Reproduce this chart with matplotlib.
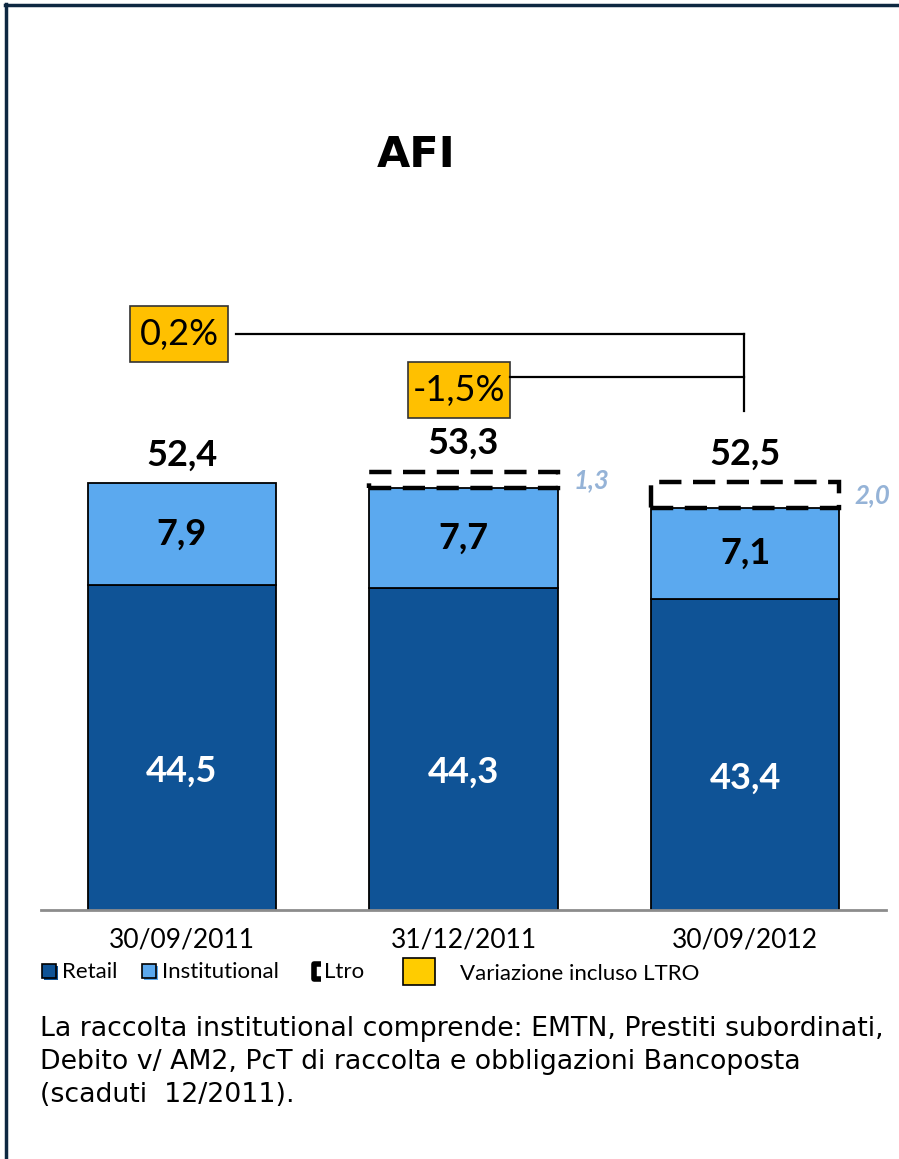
import matplotlib
matplotlib.use("Agg")
import matplotlib.pyplot as plt
from matplotlib.patches import Rectangle
from matplotlib.lines import Line2D
import numpy as np

# data
dates = ["30/09/2011", "31/12/2011", "30/09/2012"]
retail = [44.5, 44.3, 43.4]
institutional = [7.9, 7.7, 7.1]
ltro = [0.0, 1.3, 2.0]
totals = [52.4, 53.3, 52.5]
changes = ["0,2%", "-1,5%"]

RETAIL_C = "#0F5396"
INST_C = "#5BA9EF"
YELLOW = "#FFC000"
LTRO_TXT = "#95B3D7"
NAVY = "#0E2841"

W, H = 899, 1159
fig = plt.figure(figsize=(W / 100, H / 100), dpi=100)


def fx(x):
    return x / W


def fy(y):
    return 1 - y / H


def fmt(v):
    return f"{v:.1f}".replace(".", ",")


# axes placed so the bars line up with the reference
ax = fig.add_axes([fx(41), fy(910), fx(886) - fx(41), fy(300) - fy(910)])
ax.set_xlim(-0.5, 2.5)
ax.set_ylim(19.3, 66.6)
for s in ["top", "right", "left"]:
    ax.spines[s].set_visible(False)
ax.spines["bottom"].set_color("#8C8C8C")
ax.spines["bottom"].set_linewidth(2)
ax.set_yticks([])
ax.set_xticks([])
ax.patch.set_alpha(0)

x = np.arange(len(dates))
bw = 0.668
ax.bar(x, retail, width=bw, color=RETAIL_C, edgecolor="black", linewidth=1.3, zorder=2)
ax.bar(x, institutional, width=bw, bottom=retail, color=INST_C, edgecolor="black",
       linewidth=1.3, zorder=2)

base = np.array(retail) + np.array(institutional)
for i in range(len(dates)):
    if ltro[i] > 0:
        ax.add_patch(Rectangle((x[i] - bw / 2, base[i]), bw, ltro[i], fill=False,
                               edgecolor="black", linewidth=3.2, linestyle=(0, (5, 2.6)),
                               zorder=3, clip_on=False))
        ax.text(x[i] + bw / 2 + 0.055, base[i] + ltro[i] / 2, fmt(ltro[i]),
                ha="left", va="center", fontsize=18.5, fontweight="bold",
                fontstyle="italic", color=LTRO_TXT, family="Lato")
    top = base[i] + ltro[i]
    ax.annotate(fmt(totals[i]), (x[i], top), xytext=(0, 20), textcoords="offset points",
                ha="center", va="center", fontsize=26, fontweight="bold", family="Lato")
    ax.text(x[i], retail[i] + institutional[i] / 2, fmt(institutional[i]),
            ha="center", va="center", fontsize=26, fontweight="bold", family="Lato")
    ax.annotate(fmt(retail[i]), (x[i], (ax.get_ylim()[0] + retail[i]) / 2),
                xytext=(0, -17), textcoords="offset points",
                ha="center", va="center", fontsize=26, fontweight="bold",
                color="white", family="Lato")
    ax.text(x[i], 17.0, dates[i], ha="center", va="center", fontsize=19,
            family="Lato", clip_on=False)

# title
fig.text(fx(416), fy(155), "AFI", ha="center", va="center", fontsize=31,
         fontweight="bold", family="DejaVu Sans")

# change boxes and connectors
fig.add_artist(Line2D([fx(236), fx(744)], [fy(334), fy(334)], color="black", lw=1.6))
fig.add_artist(Line2D([fx(510), fx(744)], [fy(377), fy(377)], color="black", lw=1.6))
fig.add_artist(Line2D([fx(744), fx(744)], [fy(334), fy(411)], color="black", lw=1.6))
boxes = [(130, 306, 98, 56), (408, 362, 102, 56)]
for (bx, by, bwid, bh), lab in zip(boxes, changes):
    fig.add_artist(Rectangle((fx(bx), fy(by + bh)), bwid / W, bh / H, facecolor=YELLOW,
                             edgecolor="#333333", linewidth=1.2))
    fig.text(fx(bx + bwid / 2), fy(by + bh / 2 + 1), lab, ha="center", va="center",
             fontsize=26, family="Lato")

# legend
def square(x0, y0, size, color):
    fig.add_artist(Rectangle((fx(x0 + 1.5), fy(y0 + size + 1.5)), size / W, size / H,
                             facecolor=color, edgecolor="none"))
    fig.add_artist(Rectangle((fx(x0), fy(y0 + size)), size / W, size / H,
                             facecolor=color, edgecolor="black", linewidth=1.2))


square(42, 964, 14, RETAIL_C)
fig.text(fx(62), fy(972), "Retail", ha="left", va="center", fontsize=16, family="Lato")
square(142, 964, 14, INST_C)
fig.text(fx(162), fy(972), "Institutional", ha="left", va="center", fontsize=16,
         family="Lato")
fig.add_artist(Line2D([fx(321), fx(314), fx(314), fx(321)],
                      [fy(964), fy(964), fy(979), fy(979)], color="black", lw=4,
                      solid_capstyle="butt"))
fig.text(fx(324), fy(972), "Ltro", ha="left", va="center", fontsize=16, family="Lato")
fig.add_artist(Rectangle((fx(403), fy(985)), 32 / W, 27 / H, facecolor="#FFCC00",
                         edgecolor="black", linewidth=1.2))
fig.text(fx(460), fy(974), "Variazione incluso LTRO", ha="left", va="center",
         fontsize=16, family="Lato")

# footnote
note = ["La raccolta institutional comprende: EMTN, Prestiti subordinati,",
        "Debito v/ AM2, PcT di raccolta e obbligazioni Bancoposta",
        "(scaduti  12/2011)."]
for k, line in enumerate(note):
    fig.text(fx(40), fy(1029 + 33 * k), line, ha="left", va="center", fontsize=19.3,
             family="DejaVu Sans")

# frame
fig.add_artist(Line2D([fx(6), fx(6)], [fy(4), 0], color=NAVY, lw=2.5))
fig.add_artist(Line2D([fx(5), 1], [fy(5), fy(5)], color=NAVY, lw=2.5))

fig.savefig("out.png", dpi=100)
